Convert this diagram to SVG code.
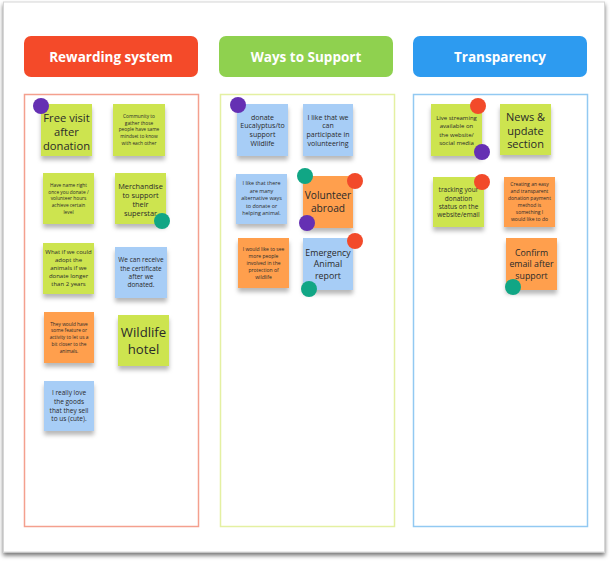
<svg xmlns="http://www.w3.org/2000/svg" width="610" height="561" viewBox="0 0 610 561">
<defs>
<filter id="cardsh" x="-5%" y="-5%" width="110%" height="112%">
<feDropShadow dx="0" dy="3" stdDeviation="2" flood-color="#000" flood-opacity="0.55"/>
</filter>
<filter id="notesh" x="-20%" y="-20%" width="140%" height="150%">
<feDropShadow dx="0" dy="4" stdDeviation="2.2" flood-color="#000" flood-opacity="0.28"/>
</filter>
<style>
.hdr{font-family:"Open Sans","Liberation Sans",sans-serif;font-weight:700;font-size:13.5px;fill:#fff;text-anchor:middle}
.n{filter:url(#notesh)}
.g{fill:#cde44f}
.b{fill:#a7cdf6}
.o{fill:#ff9f4d}
.t{font-family:"Open Sans","Liberation Sans",sans-serif;fill:#2a2a2a;text-anchor:middle}
.dp{fill:#6530b3}
.dt{fill:#11a685}
.dr{fill:#f24a2a}
</style>
</defs>
<rect width="610" height="561" fill="#fff"/>
<rect x="3.5" y="2" width="601" height="550" fill="#fff" stroke="#d6d6d6" stroke-width="1" filter="url(#cardsh)"/>

<g id="col-rewarding">
<rect x="24" y="36" width="174" height="41" rx="7" fill="#f44a29"/>
<text class="hdr" x="111" y="62">Rewarding system</text>
<rect x="24.5" y="94.5" width="174" height="432" fill="none" stroke="#f4a08e" stroke-width="1.5"/>
</g>
<g id="col-ways">
<rect x="219" y="36" width="174" height="41" rx="7" fill="#8fd14f"/>
<text class="hdr" x="306" y="62">Ways to Support</text>
<rect x="220.5" y="94.5" width="174" height="432" fill="none" stroke="#e4f0a2" stroke-width="1.5"/>
</g>
<g id="col-transparency">
<rect x="413" y="36" width="174" height="41" rx="7" fill="#2d9bf0"/>
<text class="hdr" x="500" y="62">Transparency</text>
<rect x="413.5" y="94.5" width="174" height="432" fill="none" stroke="#92c9f2" stroke-width="1.5"/>
</g>

<g id="n-free-visit"><rect class="n g" x="41" y="104" width="51" height="52"/>
<text class="t" font-size="11.2"><tspan x="66.5" y="122">Free visit</tspan><tspan x="66.5" y="136">after</tspan><tspan x="66.5" y="150">donation</tspan></text></g>

<g id="n-community"><rect class="n g" x="113" y="104" width="52" height="52"/>
<text class="t" font-size="4.8"><tspan x="139" y="117.7">Community to</tspan><tspan x="139" y="124.5">gather those</tspan><tspan x="139" y="131.3">people have same</tspan><tspan x="139" y="138">mindset to know</tspan><tspan x="139" y="144.8">with each other</tspan></text></g>

<g id="n-name-right"><rect class="n g" x="43" y="173" width="51" height="51"/>
<text class="t" font-size="4.8"><tspan x="68.5" y="186.7">Have name right</tspan><tspan x="68.5" y="193.5">once you donate /</tspan><tspan x="68.5" y="200.3">volunteer hours</tspan><tspan x="68.5" y="207">achieve certain</tspan><tspan x="68.5" y="213.8">level</tspan></text></g>

<g id="n-merch"><rect class="n g" x="115" y="173" width="51" height="51"/>
<text class="t" font-size="7.4"><tspan x="140.5" y="188.5">Merchandise</tspan><tspan x="140.5" y="197.5">to support</tspan><tspan x="140.5" y="206.5">their</tspan><tspan x="140.5" y="215.5">superstar</tspan></text></g>

<g id="n-adopt"><rect class="n g" x="43" y="243" width="51" height="51"/>
<text class="t" font-size="6"><tspan x="68.5" y="254">What if we could</tspan><tspan x="68.5" y="262">adopt the</tspan><tspan x="68.5" y="270">animals if we</tspan><tspan x="68.5" y="278">donate longer</tspan><tspan x="68.5" y="286">than 2 years</tspan></text></g>

<g id="n-certificate"><rect class="n b" x="115" y="247" width="52" height="51"/>
<text class="t" font-size="6.5"><tspan x="141" y="262.3">We can receive</tspan><tspan x="141" y="270.6">the certificate</tspan><tspan x="141" y="278.9">after we</tspan><tspan x="141" y="287.2">donated.</tspan></text></g>

<g id="n-closer"><rect class="n o" x="44" y="312" width="50" height="51"/>
<text class="t" font-size="4.8"><tspan x="69" y="325.7">They would have</tspan><tspan x="69" y="332.4">some feature or</tspan><tspan x="69" y="339.1">activity to let us a</tspan><tspan x="69" y="345.8">bit closer to the</tspan><tspan x="69" y="352.5">animals.</tspan></text></g>

<g id="n-hotel"><rect class="n g" x="118" y="315" width="51" height="51"/>
<text class="t" font-size="13.2"><tspan x="143.5" y="337">Wildlife</tspan><tspan x="143.5" y="354">hotel</tspan></text></g>

<g id="n-goods"><rect class="n b" x="44" y="381" width="50" height="50"/>
<text class="t" font-size="6.5"><tspan x="69" y="395.3">I really love</tspan><tspan x="69" y="404">the goods</tspan><tspan x="69" y="412.7">that they sell</tspan><tspan x="69" y="421.4">to us (cute).</tspan></text></g>

<g id="n-eucalyptus"><rect class="n b" x="237" y="104" width="51" height="52"/>
<text class="t" font-size="7"><tspan x="262.5" y="119.5">donate</tspan><tspan x="262.5" y="128.2">Eucalyptus/to</tspan><tspan x="262.5" y="136.9">support</tspan><tspan x="262.5" y="145.6">Wildlife</tspan></text></g>

<g id="n-participate"><rect class="n b" x="303" y="104" width="50" height="52"/>
<text class="t" font-size="7"><tspan x="328" y="119.5">I like that we</tspan><tspan x="328" y="128.3">can</tspan><tspan x="328" y="137.1">participate in</tspan><tspan x="328" y="145.9">volunteering</tspan></text></g>

<g id="n-alternative"><rect class="n b" x="236" y="174" width="51" height="50"/>
<text class="t" font-size="5.4"><tspan x="261.5" y="185">I like that there</tspan><tspan x="261.5" y="192.6">are many</tspan><tspan x="261.5" y="200.2">alternative ways</tspan><tspan x="261.5" y="207.8">to donate or</tspan><tspan x="261.5" y="215.4">helping animal.</tspan></text></g>

<g id="n-abroad"><rect class="n o" x="303" y="176" width="50" height="52"/>
<text class="t" font-size="10.2"><tspan x="328" y="199">Volunteer</tspan><tspan x="328" y="212">abroad</tspan></text></g>

<g id="n-involved"><rect class="n o" x="238" y="238" width="51" height="50"/>
<text class="t" font-size="5"><tspan x="263.5" y="250.8">I would like to see</tspan><tspan x="263.5" y="257.8">more people</tspan><tspan x="263.5" y="264.8">involved in the</tspan><tspan x="263.5" y="271.8">protection of</tspan><tspan x="263.5" y="278.8">wildlife</tspan></text></g>

<g id="n-emergency"><rect class="n b" x="303" y="238" width="50" height="52"/>
<text class="t" font-size="8.8"><tspan x="328" y="255.5">Emergency</tspan><tspan x="328" y="267">Animal</tspan><tspan x="328" y="278.5">report</tspan></text></g>

<g id="n-streaming"><rect class="n g" x="431" y="104" width="51" height="52"/>
<text class="t" font-size="6"><tspan x="456.5" y="120">Live streaming</tspan><tspan x="456.5" y="128.3">available on</tspan><tspan x="456.5" y="136.6">the website/</tspan><tspan x="456.5" y="144.9">social media</tspan></text></g>

<g id="n-news"><rect class="n g" x="500" y="104" width="51" height="51"/>
<text class="t" font-size="11"><tspan x="525.5" y="120.8">News &amp;</tspan><tspan x="525.5" y="134.5">update</tspan><tspan x="525.5" y="148.2">section</tspan></text></g>

<g id="n-tracking"><rect class="n g" x="433" y="177" width="51" height="50"/>
<text class="t" font-size="6.5"><tspan x="458.5" y="192.3">tracking your</tspan><tspan x="458.5" y="200.6">donation</tspan><tspan x="458.5" y="208.9">status on the</tspan><tspan x="458.5" y="217.2">website/email</tspan></text></g>

<g id="n-payment"><rect class="n o" x="504" y="177" width="51" height="50"/>
<text class="t" font-size="5"><tspan x="529.5" y="185.8">Creating an easy</tspan><tspan x="529.5" y="192.8">and transparent</tspan><tspan x="529.5" y="199.8">donation payment</tspan><tspan x="529.5" y="206.8">method is</tspan><tspan x="529.5" y="213.8">something I</tspan><tspan x="529.5" y="220.8">would like to do</tspan></text></g>

<g id="n-confirm"><rect class="n o" x="506" y="238" width="51" height="52"/>
<text class="t" font-size="8.8"><tspan x="531.5" y="255.5">Confirm</tspan><tspan x="531.5" y="267">email after</tspan><tspan x="531.5" y="278.5">support</tspan></text></g>

<g id="dots">
<circle class="dp" cx="41" cy="106" r="8"/>
<circle class="dt" cx="162" cy="221" r="8"/>
<circle class="dp" cx="238" cy="105" r="8"/>
<circle class="dt" cx="305" cy="176" r="8"/>
<circle class="dr" cx="355" cy="181" r="8"/>
<circle class="dp" cx="307" cy="223" r="8"/>
<circle class="dr" cx="355" cy="241" r="8"/>
<circle class="dt" cx="309" cy="289" r="8"/>
<circle class="dr" cx="478" cy="106" r="8"/>
<circle class="dp" cx="482" cy="152" r="8"/>
<circle class="dr" cx="482" cy="182" r="8"/>
<circle class="dt" cx="513" cy="287" r="8"/>
</g>
</svg>
